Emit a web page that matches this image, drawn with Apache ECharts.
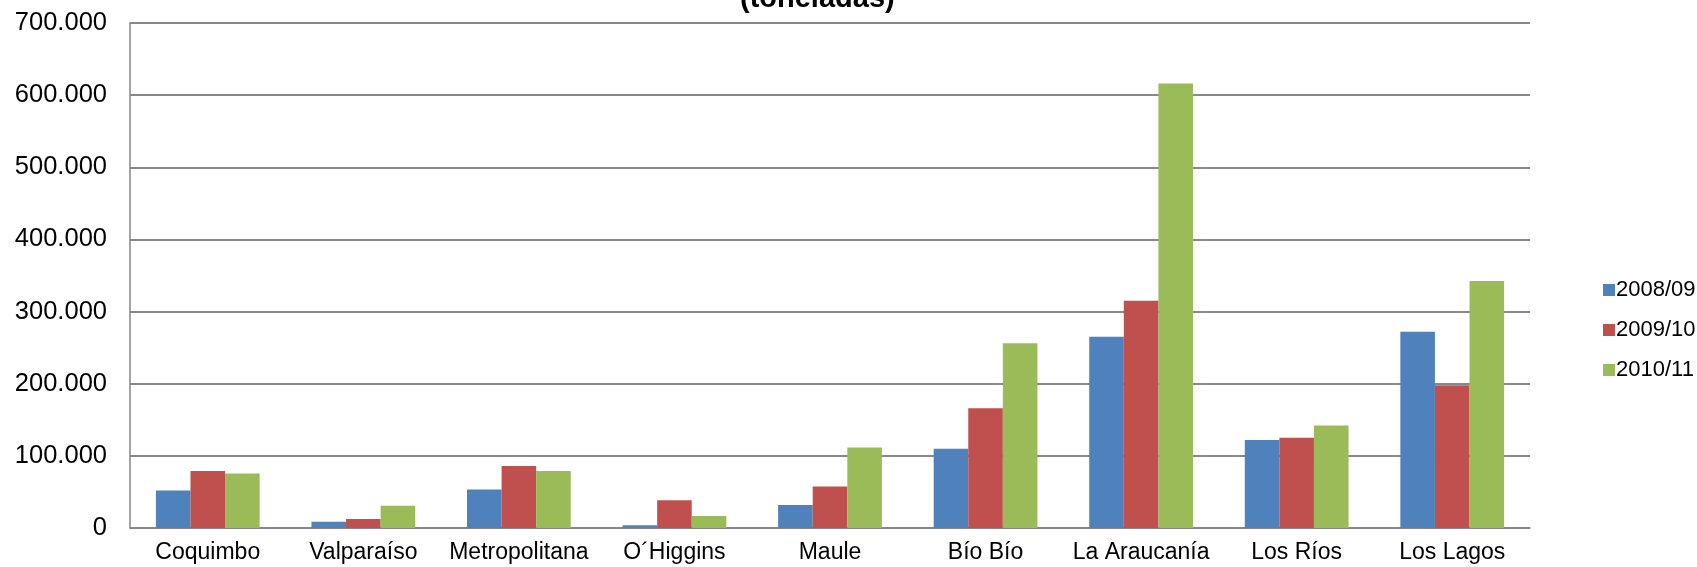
<!DOCTYPE html>
<html>
<head>
<meta charset="utf-8">
<script src="https://cdn.jsdelivr.net/npm/echarts@6/dist/echarts.min.js"></script>
<style>
html,body{margin:0;padding:0;background:#fff;}
#chart{width:1697px;height:567px;}
</style>
</head>
<body>
<div id="chart"></div>
<script>
const categories = ['Coquimbo','Valparaíso','Metropolitana','O´Higgins','Maule','Bío Bío','La Araucanía','Los Ríos','Los Lagos'];
const seriesNames = ['2008/09','2009/10','2010/11'];
const s2008 = [52000, 8700, 53500, 3700, 32000, 110000, 265000, 122000, 272000];
const s2009 = [79000, 12500, 86000, 38500, 57500, 166000, 315000, 125000, 198000];
const s2010 = [75500, 31000, 79000, 16500, 111500, 256000, 616000, 142000, 342500];
const yTicks = [0, 100000, 200000, 300000, 400000, 500000, 600000, 700000];
const colors = ['#4F81BD', '#C0504D', '#9BBB59'];

function fmt(v){
  if (v === 0) return '0';
  const s = String(Math.round(v));
  return s.replace(/\B(?=(\d{3})+(?!\d))/g, '.');
}

const chart = echarts.init(document.getElementById('chart'), null, {renderer:'canvas'});
const font = 'Liberation Sans, Arial, sans-serif';
const dataSets = [s2008, s2009, s2010];
chart.setOption({
  animation: false,
  backgroundColor: '#ffffff',
  title: {
    text: '(toneladas)',
    left: 740,
    top: -16,
    padding: 0,
    textStyle: {fontFamily: font, fontWeight: 'bold', fontSize: 29, color: '#000'}
  },
  legend: {
    orient: 'vertical',
    left: 1598,
    top: 274,
    itemWidth: 12,
    itemHeight: 12,
    itemGap: 18,
    icon: 'rect',
    data: seriesNames,
    textStyle: {fontFamily: font, fontSize: 22, color: '#000', padding: [0,0,0,-4]}
  },
  grid: {left: 130, right: 167, top: 23, bottom: 39, containLabel: false},
  xAxis: {
    type: 'category',
    data: categories,
    axisTick: {show: false},
    axisLine: {lineStyle: {color: '#868686', width: 1.5}},
    axisLabel: {fontFamily: font, fontSize: 23, color: '#000', margin: 13, interval: 0}
  },
  yAxis: {
    type: 'value',
    min: yTicks[0],
    max: yTicks[yTicks.length-1],
    interval: 100000,
    axisLine: {show: true, lineStyle: {color: '#868686', width: 1.5}},
    axisTick: {show: false},
    splitLine: {lineStyle: {color: '#888888', width: 1.8}},
    axisLabel: {fontFamily: font, fontSize: 25.5, color: '#000', margin: 23, formatter: fmt}
  },
  series: seriesNames.map((n, i) => ({
    name: n,
    type: 'bar',
    data: dataSets[i],
    barGap: '0%',
    barCategoryGap: '33.3%',
    itemStyle: {color: colors[i]}
  }))
});
</script>
</body>
</html>
